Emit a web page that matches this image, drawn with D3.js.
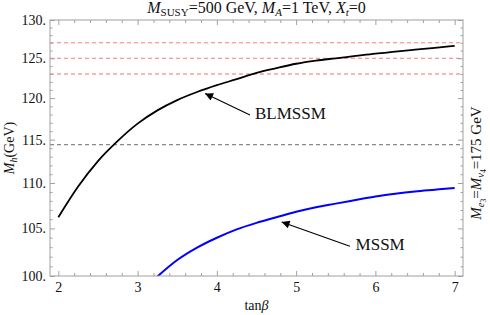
<!DOCTYPE html>
<html><head><meta charset="utf-8">
<script src="https://cdn.jsdelivr.net/npm/d3@7"></script>
<style>
body{margin:0;background:#fff;}
svg text{font-family:"Liberation Serif","DejaVu Serif","Times New Roman",serif !important;}
</style></head>
<body><svg id="c" width="490" height="315"></svg>
<script>
// ---- data ----
const tanbBLMSSM = [2,2.25,2.5,2.75,3,3.25,3.5,3.75,4,4.25,4.5,4.75,5,5.25,5.5,5.75,6,6.25,6.5,6.75,7];
const mhBLMSSM   = [106.2,109.6,112.5,114.85,116.9,118.5,119.75,120.75,121.6,122.35,123.15,123.75,124.3,124.7,125.0,125.3,125.6,125.85,126.1,126.35,126.6];
const tanbMSSM = [3.25,3.5,3.75,4,4.25,4.5,4.75,5,5.25,5.5,5.75,6,6.25,6.5,6.75,7];
const mhMSSM   = [99.95,101.65,102.95,104.0,104.9,105.6,106.2,106.8,107.3,107.7,108.1,108.5,108.8,109.05,109.25,109.45];
const redRefLines = [123,125,127];
const lepBound = [114.4];
const xTicks = [2,3,4,5,6,7];
const yTicks = [100,105,110,115,120,125,130];
const xDomain = [1.895,7.105];
const yDomain = [100,130];
const seriesNames = ["BLMSSM","MSSM"];

// ---- layout ----
const FONT = "'Liberation Serif','DejaVu Serif',serif";
const svg = d3.select("#c");
const L=50, R=463, T=20, B=276;
const x = d3.scaleLinear().domain(xDomain).range([L,R]);
const y = d3.scaleLog().domain(yDomain).range([B,T]);
const frameCol = "#a0a0a0";

const xMinor = d3.range(2,7.001,0.2).map(v=>+v.toFixed(2)).filter(v=>!xTicks.includes(v));
const yMinor = d3.range(100,131,1).filter(v=>!yTicks.includes(v));

svg.append("defs").append("clipPath").attr("id","clip")
  .append("rect").attr("x",L).attr("y",T).attr("width",R-L).attr("height",B-T);

// reference lines
const g = svg.append("g").attr("clip-path","url(#clip)");
g.selectAll("line.red").data(redRefLines).join("line")
  .attr("x1",L).attr("x2",R).attr("y1",d=>y(d)).attr("y2",d=>y(d))
  .attr("stroke",d=>d===123?"#ffb4b4":"#ff7a7a")
  .attr("stroke-width",d=>d===123?1.8:1)
  .attr("stroke-dasharray","4,3");
g.selectAll("line.lep").data(lepBound).join("line")
  .attr("x1",L).attr("x2",R).attr("y1",d=>y(d)).attr("y2",d=>y(d))
  .attr("stroke","#6a6a6a").attr("stroke-width",1).attr("stroke-dasharray","4,3");

const line = d3.line().x(d=>x(d[0])).y(d=>y(d[1])).curve(d3.curveMonotoneX);
g.append("path").datum(tanbBLMSSM.map((t,i)=>[t,mhBLMSSM[i]]))
  .attr("d",line).attr("fill","none").attr("stroke","#000").attr("stroke-width",1.8);
g.append("path").datum(tanbMSSM.map((t,i)=>[t,mhMSSM[i]]))
  .attr("d",line).attr("fill","none").attr("stroke","#0000ff").attr("stroke-width",2);

// axes
function styleAxis(sel){
  sel.attr("font-family",FONT);
  sel.select(".domain").remove();
  sel.selectAll(".tick line").attr("stroke",frameCol);
  sel.selectAll(".tick text").attr("fill","#111").attr("font-size",14).attr("font-family",FONT);
}
svg.append("g").attr("transform",`translate(0,${B})`)
  .call(d3.axisBottom(x).tickValues(xTicks).tickSize(-5).tickPadding(6).tickFormat(d3.format("d"))).call(styleAxis);
svg.append("g").attr("transform",`translate(0,${B})`)
  .call(d3.axisBottom(x).tickValues(xMinor).tickSize(-3).tickFormat("")).call(styleAxis);
svg.append("g").attr("transform",`translate(0,${T})`)
  .call(d3.axisTop(x).tickValues(xTicks).tickSize(-5).tickFormat("")).call(styleAxis);
svg.append("g").attr("transform",`translate(0,${T})`)
  .call(d3.axisTop(x).tickValues(xMinor).tickSize(-3).tickFormat("")).call(styleAxis);
svg.append("g").attr("transform",`translate(${L},0)`)
  .call(d3.axisLeft(y).tickValues(yTicks).tickSize(-5).tickPadding(4).tickFormat(d=>d+".")).call(styleAxis);
svg.append("g").attr("transform",`translate(${L},0)`)
  .call(d3.axisLeft(y).tickValues(yMinor).tickSize(-2.5).tickFormat("")).call(styleAxis);
svg.append("g").attr("transform",`translate(${R},0)`)
  .call(d3.axisRight(y).tickValues(yTicks).tickSize(-5).tickFormat("")).call(styleAxis);
svg.append("g").attr("transform",`translate(${R},0)`)
  .call(d3.axisRight(y).tickValues(yMinor).tickSize(-2.5).tickFormat("")).call(styleAxis);

svg.append("rect").attr("x",L).attr("y",T).attr("width",R-L).attr("height",B-T)
  .attr("fill","none").attr("stroke",frameCol).attr("stroke-width",1);

function txt(){ return svg.append("text").attr("font-family",FONT).attr("fill","#111"); }

// title
const title = txt().attr("x",(L+R)/2).attr("y",13).attr("text-anchor","middle").attr("font-size",16);
title.append("tspan").attr("font-style","italic").text("M");
title.append("tspan").attr("font-size",11).attr("dy",3).text("SUSY");
title.append("tspan").attr("dy",-3).text("=500 GeV, ");
title.append("tspan").attr("font-style","italic").text("M");
title.append("tspan").attr("font-style","italic").attr("font-size",11).attr("dy",3).text("A");
title.append("tspan").attr("dy",-3).text("=1 TeV, ");
title.append("tspan").attr("font-style","italic").text("X");
title.append("tspan").attr("font-style","italic").attr("font-size",11).attr("dy",3).text("t");
title.append("tspan").attr("dy",-3).text("=0");

// x label
const xl = txt().attr("x",(L+R)/2).attr("y",310).attr("text-anchor","middle").attr("font-size",14);
xl.append("tspan").text("tan");
xl.append("tspan").attr("font-style","italic").text("β");

// y label
const yl = txt().attr("transform",`translate(14,${(T+B)/2}) rotate(-90)`)
  .attr("text-anchor","middle").attr("font-size",14);
yl.append("tspan").attr("font-style","italic").text("M");
yl.append("tspan").attr("font-style","italic").attr("font-size",10).attr("dy",3).text("h");
yl.append("tspan").attr("dy",-3).text("(GeV)");

// right label
const rl = txt().attr("transform",`translate(481,163) rotate(-90)`)
  .attr("text-anchor","middle").attr("font-size",15);
rl.append("tspan").attr("font-style","italic").text("M");
rl.append("tspan").attr("font-style","italic").attr("font-size",10.5).attr("dy",3).text("e");
rl.append("tspan").attr("font-size",7.5).attr("dy",2).text("3");
rl.append("tspan").attr("dy",-5).text("=");
rl.append("tspan").attr("font-style","italic").text("M");
rl.append("tspan").attr("font-style","italic").attr("font-size",10.5).attr("dy",3).text("ν");
rl.append("tspan").attr("font-size",7.5).attr("dy",2).text("4");
rl.append("tspan").attr("dy",-5).text("=175 GeV");

// annotations (data coordinates)
const annotations = [
  {label:seriesNames[0], tip:[3.851,120.58], tail:[4.418,117.93], text:[4.48,118.17]},
  {label:seriesNames[1], tip:[4.817,105.7], tail:[5.678,103.1], text:[5.75,103.35]}
];
svg.append("defs").append("marker").attr("id","ah").attr("viewBox","0 0 10 10")
  .attr("refX",10).attr("refY",5).attr("markerWidth",11).attr("markerHeight",8)
  .attr("markerUnits","userSpaceOnUse").attr("orient","auto")
  .append("path").attr("d","M0,0L10,5L0,10z").attr("fill","#000");
annotations.forEach(a=>{
  svg.append("line").attr("x1",x(a.tail[0])).attr("y1",y(a.tail[1]))
    .attr("x2",x(a.tip[0])).attr("y2",y(a.tip[1]))
    .attr("stroke","#000").attr("stroke-width",1.1).attr("marker-end","url(#ah)");
  txt().attr("x",x(a.text[0])).attr("y",y(a.text[1])).attr("dy","0.35em")
    .attr("font-size",17).text(a.label);
});
</script></body></html>
